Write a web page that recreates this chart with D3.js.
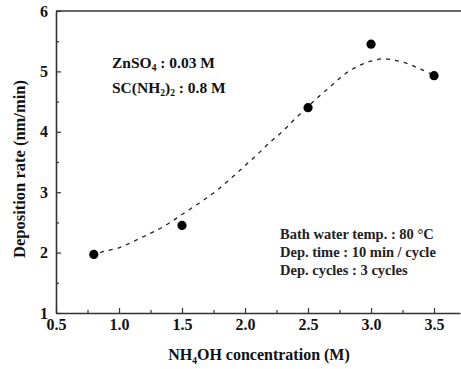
<!DOCTYPE html>
<html><head><meta charset="utf-8">
<script src="https://cdn.jsdelivr.net/npm/d3@7"></script>
<style>body{margin:0;background:#fff}svg{display:block}text{font-family:"Liberation Serif","Times New Roman",serif}</style>
</head><body><svg id="c" width="461" height="369"></svg>
<script>
const concentration = [0.8, 1.5, 2.5, 3.0, 3.5];
const depositionRate = [1.97, 2.45, 4.40, 5.45, 4.93];
const fitX = [0.85, 0.9, 1.0, 1.1, 1.2, 1.3, 1.4, 1.5, 1.6, 1.7, 1.8, 1.9, 2.0, 2.1, 2.2, 2.3, 2.4, 2.5, 2.6, 2.7, 2.8, 2.9, 3.0, 3.1, 3.2, 3.3, 3.4, 3.5];
const fitY = [2.00, 2.03, 2.08, 2.17, 2.27, 2.37, 2.49, 2.63, 2.77, 2.91, 3.07, 3.25, 3.44, 3.63, 3.83, 4.01, 4.22, 4.42, 4.61, 4.79, 4.97, 5.09, 5.17, 5.21, 5.18, 5.12, 5.03, 4.94];
const xTicks = [0.5, 1.0, 1.5, 2.0, 2.5, 3.0, 3.5];
const yTicks = [1, 2, 3, 4, 5, 6];

const svg = d3.select("#c");
const L = 56, R = 460, T = 11, B = 313;
const x = d3.scaleLinear().domain([0.5, 3.706]).range([L, R]);
const y = d3.scaleLinear().domain([1, 6]).range([B, T]);
const axisCol = "#333";

const xMinor = d3.range(0.75, 3.7, 0.5);
const yMinor = d3.range(1.5, 6, 1);

const gx = svg.append("g").attr("transform", `translate(0,${B})`)
  .call(d3.axisBottom(x).tickValues(xTicks).tickFormat(d3.format(".1f")).tickSizeInner(-5).tickSizeOuter(0).tickPadding(6));
svg.append("g").attr("transform", `translate(0,${B})`)
  .call(d3.axisBottom(x).tickValues(xMinor).tickFormat("").tickSizeInner(-3).tickSizeOuter(0))
  .select(".domain").remove();
const gy = svg.append("g").attr("transform", `translate(${L},0)`)
  .call(d3.axisLeft(y).tickValues(yTicks).tickFormat(d3.format("d")).tickSizeInner(-5).tickSizeOuter(0).tickPadding(8));
svg.append("g").attr("transform", `translate(${L},0)`)
  .call(d3.axisLeft(y).tickValues(yMinor).tickFormat("").tickSizeInner(-3).tickSizeOuter(0))
  .select(".domain").remove();

svg.selectAll(".domain").attr("stroke", axisCol).attr("stroke-width", 1.6);
svg.selectAll(".tick line").attr("stroke", axisCol).attr("stroke-width", 1.2);
svg.selectAll(".tick text").attr("font-size", 16).attr("font-weight", "bold").attr("fill", "#111");
gx.selectAll(".tick text").attr("dy", "0.71em");

svg.append("line").attr("x1", L).attr("x2", R + 1).attr("y1", y(6)).attr("y2", y(6))
  .attr("stroke", axisCol).attr("stroke-width", 1.6);

const line = d3.line().x((d, i) => x(fitX[i])).y(d => y(d)).curve(d3.curveCatmullRom);
svg.append("path").datum(fitY).attr("d", line).attr("fill", "none")
  .attr("stroke", "#222").attr("stroke-width", 1.3).attr("stroke-dasharray", "4,5");

svg.selectAll("circle.pt").data(concentration).join("circle").attr("class", "pt")
  .attr("cx", d => x(d)).attr("cy", (d, i) => y(depositionRate[i])).attr("r", 4.6).attr("fill", "#000");

const xt = svg.append("text").attr("x", 259).attr("y", 360).attr("text-anchor", "middle")
  .attr("font-size", 16).attr("font-weight", "bold").attr("fill", "#111");
xt.append("tspan").text("NH");
xt.append("tspan").attr("font-size", 9.5).attr("dy", 4).text("4");
xt.append("tspan").attr("dy", -4).text("OH concentration (M)");

svg.append("text").attr("transform", "translate(25,169) rotate(-90)").attr("text-anchor", "middle")
  .attr("font-size", 16.5).attr("font-weight", "bold").attr("fill", "#111").text("Deposition rate (nm/min)");

const a1 = svg.append("text").attr("x", 112).attr("y", 68).attr("font-size", 15.5).attr("font-weight", "bold").attr("fill", "#111");
a1.append("tspan").text("ZnSO");
a1.append("tspan").attr("font-size", 9.5).attr("dy", 3).text("4");
a1.append("tspan").attr("dy", -3).text(" : 0.03 M");

const a2 = svg.append("text").attr("x", 112).attr("y", 93).attr("font-size", 15.5).attr("font-weight", "bold").attr("fill", "#111");
a2.append("tspan").text("SC(NH");
a2.append("tspan").attr("font-size", 9.5).attr("dy", 3).text("2");
a2.append("tspan").attr("dy", -3).text(")");
a2.append("tspan").attr("font-size", 9.5).attr("dy", 3).text("2");
a2.append("tspan").attr("dy", -3).text(" : 0.8 M");

const notes = ["Bath water temp. : 80 \u00b0C", "Dep. time : 10 min / cycle", "Dep. cycles : 3 cycles"];
svg.selectAll("text.note").data(notes).join("text").attr("class", "note")
  .attr("x", 280).attr("y", (d, i) => 239 + i * 18).attr("font-size", 14.5).attr("font-weight", "bold")
  .attr("fill", "#222").text(d => d);
</script></body></html>
